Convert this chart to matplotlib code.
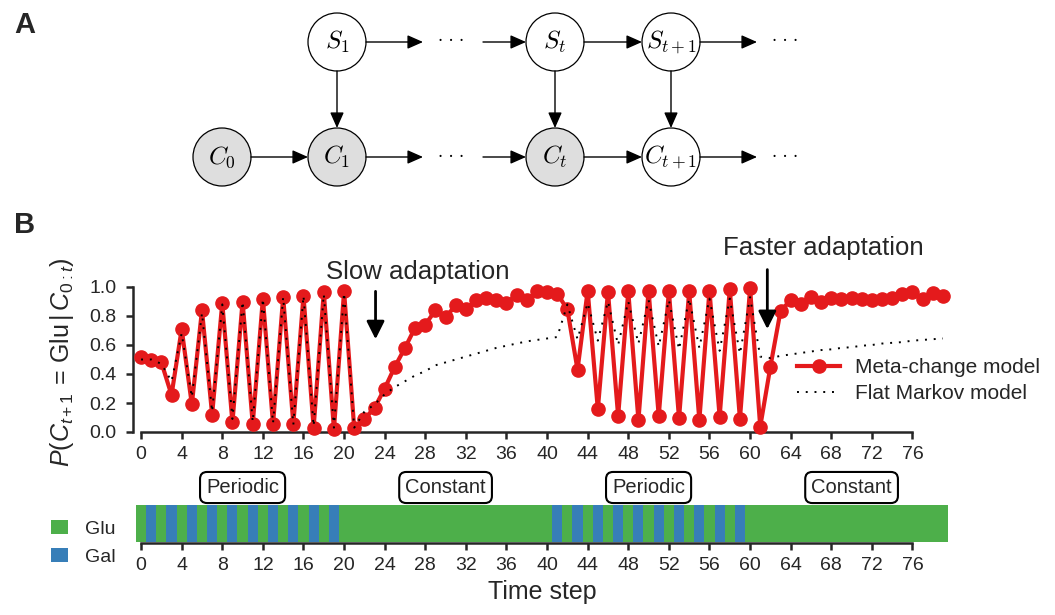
import numpy as np
import matplotlib
matplotlib.use("Agg")
import matplotlib.pyplot as plt
from matplotlib.patches import Circle, Patch
from matplotlib.lines import Line2D
from matplotlib.colors import ListedColormap
from matplotlib import transforms

# values, one per time step (t = 0..79)
meta_change = [0.52, 0.50, 0.48, 0.255, 0.71, 0.19, 0.84, 0.12, 0.89, 0.066,
               0.90, 0.055, 0.92, 0.055, 0.93, 0.055, 0.94, 0.03, 0.966, 0.018,
               0.97, 0.025, 0.09, 0.166, 0.30, 0.45, 0.58, 0.72, 0.74, 0.84,
               0.79, 0.875, 0.845, 0.91, 0.927, 0.91, 0.89, 0.945, 0.91, 0.97,
               0.966, 0.955, 0.845, 0.43, 0.975, 0.156, 0.968, 0.11, 0.97, 0.082,
               0.975, 0.11, 0.97, 0.094, 0.97, 0.082, 0.975, 0.105, 0.984, 0.09,
               0.99, 0.036, 0.45, 0.834, 0.91, 0.88, 0.934, 0.90, 0.925, 0.915,
               0.925, 0.915, 0.91, 0.915, 0.925, 0.95, 0.966, 0.915, 0.957, 0.94]

flat_markov = [0.50, 0.50, 0.47, 0.35, 0.68, 0.24, 0.82, 0.14, 0.88, 0.09,
               0.90, 0.07, 0.92, 0.06, 0.93, 0.05, 0.94, 0.04, 0.95, 0.03,
               0.96, 0.03, 0.14, 0.19, 0.26, 0.31, 0.35, 0.39, 0.42, 0.46,
               0.48, 0.50, 0.52, 0.54, 0.56, 0.58, 0.595, 0.61, 0.625, 0.635,
               0.645, 0.655, 0.88, 0.64, 0.89, 0.63, 0.90, 0.60, 0.90, 0.61,
               0.91, 0.59, 0.91, 0.57, 0.92, 0.58, 0.92, 0.56, 0.92, 0.54,
               0.93, 0.52, 0.51, 0.525, 0.535, 0.545, 0.555, 0.565, 0.57, 0.58,
               0.585, 0.595, 0.60, 0.61, 0.615, 0.62, 0.63, 0.635, 0.64, 0.645]

# 0 = Glu, 1 = Gal
gal = [0, 1, 0, 1, 0, 1, 0, 1, 0, 1, 0, 1, 0, 1, 0, 1, 0, 1, 0, 1,
       0, 0, 0, 0, 0, 0, 0, 0, 0, 0, 0, 0, 0, 0, 0, 0, 0, 0, 0, 0,
       0, 1, 0, 1, 0, 1, 0, 1, 0, 1, 0, 1, 0, 1, 0, 1, 0, 1, 0, 1,
       0, 0, 0, 0, 0, 0, 0, 0, 0, 0, 0, 0, 0, 0, 0, 0, 0, 0, 0, 0]

segment_names = ["Periodic", "Constant", "Periodic", "Constant"]
segment_starts = [0, 20, 40, 60]
segment_len = 20

xticks = list(range(0, 77, 4))
yticks = [0.0, 0.2, 0.4, 0.6, 0.8, 1.0]

RED = "#e41a1c"
GREEN = "#4daf4a"
BLUE = "#377eb8"
INK = "#262626"

plt.rcParams["font.family"] = ["Liberation Sans", "DejaVu Sans"]
plt.rcParams["mathtext.fontset"] = "custom"
plt.rcParams["mathtext.rm"] = "Liberation Sans"
plt.rcParams["mathtext.it"] = "Liberation Sans:italic"
plt.rcParams["text.color"] = INK

W, H = 1055, 615
fig = plt.figure(figsize=(W / 100, H / 100), dpi=100)


def px(x0, y0, x1, y1):
    return [x0 / W, 1 - y1 / H, (x1 - x0) / W, (y1 - y0) / H]


# ---------------- panel A: graphical model ----------------
axa = fig.add_axes([0, 1 - 200 / H, 1, 200 / H])
axa.set_xlim(0, W)
axa.set_ylim(200, 0)
axa.axis("off")

R = 29
nodes = {
    "S1": (337, 42, r"$S_1$", False),
    "C0": (222, 157, r"$C_0$", True),
    "C1": (337, 157, r"$C_1$", True),
    "St": (555, 42, r"$S_t$", False),
    "Ct": (555, 157, r"$C_t$", True),
    "S2": (671, 42, r"$S_{t+1}$", False),
    "C2": (671, 157, r"$C_{t+1}$", False),
}
dots = {"d1": (451, 42), "d2": (451, 157), "d3": (785, 42), "d4": (785, 157)}
edges = [("S1", "d1"), ("d1", "St"), ("St", "S2"), ("S2", "d3"),
         ("C0", "C1"), ("C1", "d2"), ("d2", "Ct"), ("Ct", "C2"), ("C2", "d4"),
         ("S1", "C1"), ("St", "Ct"), ("S2", "C2")]

for name, (x, y, lab, shaded) in nodes.items():
    axa.add_patch(Circle((x, y), R, fc="#dedede" if shaded else "white",
                         ec="black", lw=0.9, zorder=2))
    axa.text(x, y, lab, ha="center", va="center", fontsize=18,
             math_fontfamily="cm", color="black", zorder=3)
for name, (x, y) in dots.items():
    axa.text(x, y, "\u00b7 \u00b7 \u00b7", ha="center", va="center",
             fontsize=12, family="DejaVu Serif", color="black")


def pos(n):
    return nodes[n][:2] if n in nodes else dots[n]


for a, b in edges:
    sa = (R if a in nodes else 32) * 0.72
    sb = (R if b in nodes else 28) * 0.72
    axa.annotate("", xy=pos(b), xytext=pos(a),
                 arrowprops=dict(arrowstyle="-|>,head_length=0.95,head_width=0.42",
                                 mutation_scale=10, lw=1.0, color="black",
                                 shrinkA=sa, shrinkB=sb))

fig.text(25 / W, 1 - 25 / H, "A", fontsize=21, fontweight="bold",
         ha="center", va="center")
fig.text(25 / W, 1 - 225 / H, "B", fontsize=21, fontweight="bold",
         ha="center", va="center")

# ---------------- panel B: predictions ----------------
t = np.arange(len(meta_change))
ax = fig.add_axes(px(136, 287, 948, 432))
ax.plot(t, meta_change, color=RED, lw=3, marker="o", ms=9.5, zorder=3,
        clip_on=False)
ax.plot(t, flat_markov, color="black", lw=1.4, ls=(0, (1, 3.5)), zorder=4,
        clip_on=False)
ax.set_xlim(-0.5, 79.5)
ax.set_ylim(0, 1)
ax.set_xticks(xticks)
ax.set_yticks(yticks)
ax.set_yticklabels(["%.1f" % v for v in yticks])
for s in ["top", "right"]:
    ax.spines[s].set_visible(False)
for s in ["left", "bottom"]:
    ax.spines[s].set_linewidth(1.8)
    ax.spines[s].set_color(INK)
ax.spines["left"].set_bounds(0, 1)
ax.spines["left"].set_position(("outward", 2.2))
ax.spines["bottom"].set_bounds(0, 76)
ax.tick_params(direction="out", length=5, width=1.8, color=INK,
               labelcolor=INK, labelsize=14)
ax.tick_params(axis="x", pad=5)
ax.tick_params(axis="y", pad=7)

ax.annotate("", xy=(23.1, 0.64), xytext=(23.1, 0.97), annotation_clip=False,
            arrowprops=dict(arrowstyle="-|>,head_length=0.9,head_width=0.45",
                            mutation_scale=12, lw=2, color="black",
                            shrinkA=0, shrinkB=0))
ax.text(27.3, 1.10, "Slow adaptation", ha="center", va="center", fontsize=18.5)
ax.annotate("", xy=(61.7, 0.71), xytext=(61.7, 1.12), annotation_clip=False,
            arrowprops=dict(arrowstyle="-|>,head_length=0.9,head_width=0.45",
                            mutation_scale=12, lw=2, color="black",
                            shrinkA=0, shrinkB=0))
ax.text(67.2, 1.27, "Faster adaptation", ha="center", va="center",
        fontsize=18.5)

handles = [Line2D([], [], color=RED, lw=3, marker="o", ms=9.5),
           Line2D([], [], color="black", lw=1.4, ls=(0, (1, 3.5)))]
fig.legend(handles, ["Meta-change model", "Flat Markov model"],
           loc="upper left", bbox_to_anchor=(797 / W, 1 - 358 / H),
           frameon=False, borderpad=0, borderaxespad=0, fontsize=15,
           handlelength=2.07, handletextpad=0.72, labelspacing=0.35)

fig.text(62 / W, 1 - 362 / H,
         r"$P(C_{t+1}\,=\,\mathrm{Glu}\,|\,C_{0:t})$",
         rotation=90, ha="center", va="center", fontsize=18)

# ---------------- condition strip ----------------
axb = fig.add_axes(px(136, 505, 948, 541.7))
axb.imshow(np.array([gal]), cmap=ListedColormap([GREEN, BLUE]), vmin=0, vmax=1,
           aspect="auto", extent=(-0.5, len(gal) - 0.5, 0, 1),
           interpolation="nearest")
axb.set_xlim(-0.5, 79.5)
axb.set_ylim(0, 1)
axb.set_yticks([])
axb.set_xticks(xticks)
for s in ["top", "right", "left"]:
    axb.spines[s].set_visible(False)
axb.spines["bottom"].set_linewidth(1.8)
axb.spines["bottom"].set_color(INK)
axb.spines["bottom"].set_bounds(0, 76)
axb.spines["bottom"].set_position(("outward", 1))
axb.tick_params(direction="out", length=5, width=1.8, color=INK,
                labelcolor=INK, labelsize=14, pad=5)
axb.set_xlabel("Time step", fontsize=18, labelpad=4, color=INK)

trans = transforms.blended_transform_factory(axb.transData, fig.transFigure)
for name, start in zip(segment_names, segment_starts):
    axb.text(start + segment_len / 2, 1 - 487.5 / H, name, transform=trans,
             ha="center", va="center", fontsize=14.5,
             bbox=dict(boxstyle="round,pad=0.3,rounding_size=0.35",
                       fc="white", ec="black", lw=1.5))

fig.legend([Patch(fc=GREEN, ec="none"), Patch(fc=BLUE, ec="none")],
           ["Glu", "Gal"], loc="upper left",
           bbox_to_anchor=(51 / W, 1 - 520 / H), frameon=False, borderpad=0,
           borderaxespad=0, fontsize=14, handlelength=0.88, handleheight=0.77,
           handletextpad=0.88, labelspacing=0.5)

fig.savefig("out.png", dpi=100)
